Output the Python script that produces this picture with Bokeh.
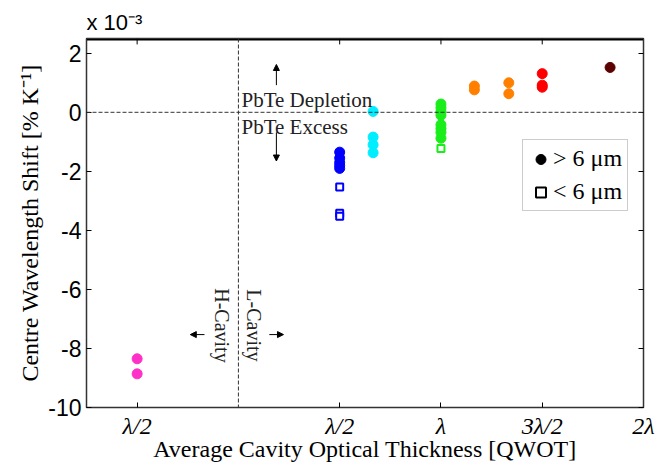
import math
from bokeh.plotting import figure
from bokeh.models import (Span, Label, Arrow, NormalHead, Legend, LegendItem,
                          LinearAxis, FixedTicker, Range1d, Title)
from bokeh.embed import file_html
from bokeh.resources import INLINE

# ---- data (x in QWOT, y in 1e-3 %/K) ----
pink_x = [-2, -2]
pink_y = [-8.35, -8.86]
blue_x = [2, 2, 2, 2, 2]
blue_y = [-1.35, -1.55, -1.7, -1.8, -1.9]
blue_open_x = [2, 2, 2]
blue_open_y = [-2.53, -3.42, -3.52]
cyan_x = [2.66, 2.66, 2.66, 2.66]
cyan_y = [0.03, -0.84, -1.1, -1.37]
green_x = [4, 4, 4, 4, 4, 4, 4, 4]
green_y = [0.28, 0.15, 0.02, -0.1, -0.42, -0.55, -0.68, -0.88]
green_open_x = [4]
green_open_y = [-1.23]
orange1_x = [4.66, 4.66]
orange1_y = [0.89, 0.76]
orange2_x = [5.34, 5.34]
orange2_y = [1.0, 0.63]
red_x = [6, 6, 6]
red_y = [1.31, 0.92, 0.85]
dred_x = [7.34]
dred_y = [1.52]

x_ticks = [-2, 2, 4, 6, 8]
x_tick_labels = ["λ/2", "λ/2", "λ", "3λ/2", "2λ"]
y_ticks = [-10, -8, -6, -4, -2, 0, 2]
y_tick_labels = ["-10", "-8", "-6", "-4", "-2", "0", "2"]
Y_TOP = 2.5

SERIF = "Liberation Serif"
SANS = "Liberation Sans"
AX = "#333333"

p = figure(width=657, height=466, output_backend="svg", toolbar_location=None,
           x_range=Range1d(-3, 8), y_range=Range1d(-10, Y_TOP),
           min_border_left=86, min_border_right=14, min_border_top=38,
           min_border_bottom=59)
p.background_fill_color = "white"
p.border_fill_color = "white"
p.outline_line_color = AX
p.outline_line_width = 1.5
p.grid.visible = False

# axes
xa = p.xaxis[0]
xa.ticker = FixedTicker(ticks=x_ticks)
xa.major_label_overrides = {t: l for t, l in zip(x_ticks, x_tick_labels)}
xa.major_label_text_font = SERIF
xa.major_label_text_font_size = "24px"
xa.major_label_text_font_style = "italic"
xa.major_label_text_color = "black"
xa.major_label_standoff = 5
xa.axis_label = "Average Cavity Optical Thickness [QWOT]"
xa.axis_label_text_font = SERIF
xa.axis_label_text_font_size = "24px"
xa.axis_label_text_font_style = "normal"
xa.axis_label_text_color = "black"
xa.axis_label_standoff = -6
xa.major_tick_in = 5
xa.major_tick_out = 0
xa.minor_tick_line_color = None
xa.axis_line_color = AX

ya = p.yaxis[0]
ya.ticker = FixedTicker(ticks=y_ticks)
ya.major_label_overrides = {t: l for t, l in zip(y_ticks, y_tick_labels)}
ya.major_label_text_font = SANS
ya.major_label_text_font_size = "23px"
ya.major_label_text_color = "black"
ya.major_label_standoff = 5
ya.axis_label = "Centre Wavelength Shift [% K⁻¹]"
ya.axis_label_text_font = SERIF
ya.axis_label_text_font_size = "24px"
ya.axis_label_text_font_style = "normal"
ya.axis_label_text_color = "black"
ya.axis_label_standoff = 2
ya.major_tick_in = 5
ya.major_tick_out = 0
ya.minor_tick_line_color = None
ya.axis_line_color = AX

right_ax = LinearAxis(ticker=FixedTicker(ticks=y_ticks),
                      major_label_overrides={t: "" for t in y_ticks},
                      major_tick_in=5, major_tick_out=0, minor_tick_line_color=None,
                      axis_line_color=AX, major_label_text_font_size="1px",
                      major_label_standoff=0)
p.add_layout(right_ax, "right")

# exponent shown as a left-aligned title above the frame
p.add_layout(Title(text="x 10⁻³", align="left", text_font=SANS,
                   text_font_size="22px", text_font_style="normal",
                   text_color="black", offset=0, standoff=8), "above")

# top border of the box (drawn as a data line just inside the frame) and ticks
p.line(x=[-3, 8], y=[Y_TOP - 0.04, Y_TOP - 0.04], line_color="black", line_width=1.5)
p.segment(x0=x_ticks, y0=[Y_TOP] * len(x_ticks), x1=x_ticks,
          y1=[Y_TOP - 0.2] * len(x_ticks), line_color="black", line_width=1)

# reference lines
p.add_layout(Span(location=0, dimension="width", line_color=AX,
                  line_width=1, line_dash="4 2"))
p.add_layout(Span(location=0, dimension="height", line_color=AX,
                  line_width=1, line_dash="4 2"))

# data
S = 10
p.scatter(pink_x, pink_y, marker="circle", size=S, color="#ff30c8")
p.scatter(blue_x, blue_y, marker="circle", size=S, color="#0000ff")
p.scatter(blue_open_x, blue_open_y, marker="square", size=7, fill_color="white",
          line_color="#0000ff", line_width=2)
p.scatter(cyan_x, cyan_y, marker="circle", size=S, color="#00eeff")
p.scatter(green_x, green_y, marker="circle", size=S, color="#1aee1a")
p.scatter(green_open_x, green_open_y, marker="square", size=7, fill_color="white",
          line_color="#1aee1a", line_width=2)
p.scatter(orange1_x, orange1_y, marker="circle", size=S, color="#ff8000")
p.scatter(orange2_x, orange2_y, marker="circle", size=S, color="#ff8000")
p.scatter(red_x, red_y, marker="circle", size=S, color="#ff0000")
p.scatter(dred_x, dred_y, marker="circle", size=S, color="#5c0000")

# legend (black reference markers, not drawn in the plot)
nan = float("nan")
r_big = p.scatter([nan], [nan], marker="circle", size=10, color="black")
r_small = p.scatter([nan], [nan], marker="square", size=7, fill_color="white",
                    line_color="black", line_width=2)
legend = Legend(items=[LegendItem(label="> 6 μm", renderers=[r_big]),
                       LegendItem(label="< 6 μm", renderers=[r_small])],
                location=(436, 196), label_text_font=SERIF,
                label_text_font_size="24px", label_text_color="black",
                border_line_color="#999999", border_line_width=1,
                background_fill_color="white", background_fill_alpha=1,
                glyph_width=25, glyph_height=26, label_standoff=0,
                label_height=26,
                padding=5, spacing=6, margin=0)
p.add_layout(legend)

# annotations
p.add_layout(Label(x=0.06, y=0.41, text="PbTe Depletion", text_font=SERIF,
                   text_font_size="21px", text_baseline="middle", text_color="#222222"))
p.add_layout(Label(x=0.06, y=-0.51, text="PbTe Excess", text_font=SERIF,
                   text_font_size="21px", text_baseline="middle", text_color="#222222"))
p.add_layout(Label(x=-0.32, y=-7.22, text="H-Cavity", text_font=SERIF,
                   text_font_size="20px", text_align="center", text_baseline="middle",
                   angle=-math.pi / 2, text_color="#222222"))
p.add_layout(Label(x=0.3, y=-7.22, text="L-Cavity", text_font=SERIF,
                   text_font_size="20px", text_align="center", text_baseline="middle",
                   angle=-math.pi / 2, text_color="#222222"))

def arrow(x0, y0, x1, y1):
    p.add_layout(Arrow(end=NormalHead(size=6, fill_color="black", line_color="black"),
                       x_start=x0, y_start=y0, x_end=x1, y_end=y1,
                       line_color="black", line_width=1))

arrow(0.75, 0.92, 0.75, 1.62)
arrow(0.75, -0.68, 0.75, -1.65)
arrow(-0.67, -7.53, -0.95, -7.53)
arrow(0.61, -7.53, 0.89, -7.53)

open("out.html", "w").write(file_html(p, INLINE))
